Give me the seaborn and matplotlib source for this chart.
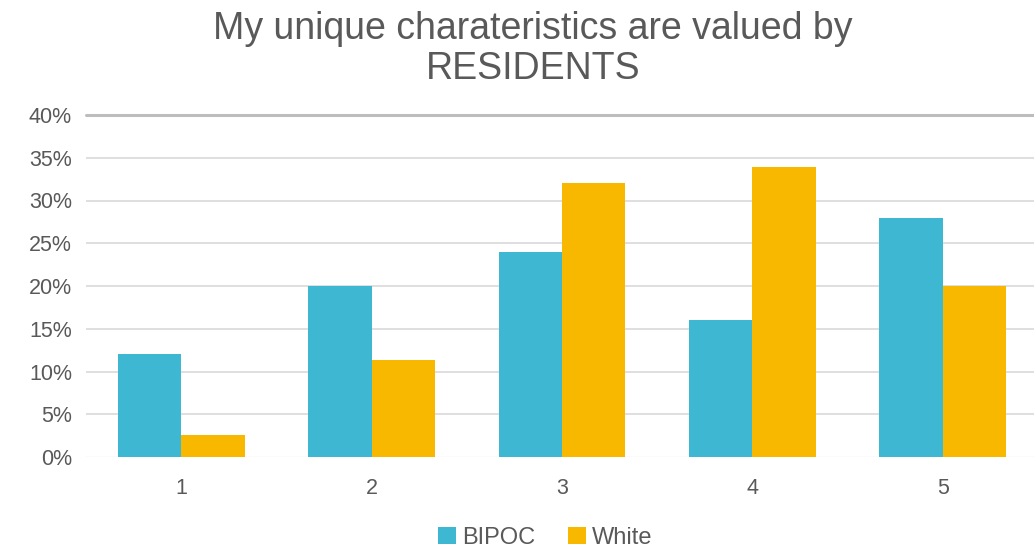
import matplotlib
matplotlib.use("Agg")
import matplotlib.pyplot as plt
import seaborn as sns
import pandas as pd
from matplotlib.patches import Patch

categories = ["1", "2", "3", "4", "5"]
bipoc = [12.0, 20.0, 24.0, 16.0, 28.0]
white = [2.6, 11.3, 32.0, 33.9, 20.0]
groups = ["BIPOC", "White"]
colors = ["#3DB7D2", "#F9B800"]
yticks = [0, 5, 10, 15, 20, 25, 30, 35, 40]

df = pd.DataFrame({
    "cat": categories * 2,
    "value": bipoc + white,
    "group": [groups[0]] * len(categories) + [groups[1]] * len(categories),
})

sns.set_theme(style="white")
plt.rcParams["font.family"] = ["Liberation Sans", "DejaVu Sans"]

fig = plt.figure(figsize=(10.34, 5.52), dpi=100)
W, H = 1034, 552
ax = fig.add_axes([86 / W, 1 - 457 / H, (1038 - 86) / W, (457 - 115) / H])

sns.barplot(data=df, x="cat", y="value", hue="group", order=categories,
            hue_order=groups, palette=colors, width=0.667, saturation=1,
            edgecolor="none", linewidth=0, ax=ax, legend=False)

ax.set_ylim(0, 40)
ax.set_xlim(-0.5, 4.5)
ax.set_yticks(yticks)
ax.set_yticklabels([f"{t}%" for t in yticks])
ax.set_xlabel("")
ax.set_ylabel("")
for s in ax.spines.values():
    s.set_visible(False)
ax.set_axisbelow(True)
for t in yticks:
    if t == 40:
        ax.axhline(t, color="#BDBDBD", lw=2.2, zorder=0, clip_on=False)
    elif t == 0:
        ax.axhline(t, color="#E6E6E6", lw=1.0, zorder=0)
    else:
        ax.axhline(t, color="#D9D9D9", lw=1.2, zorder=0)
ax.tick_params(axis="both", length=0, labelsize=15.5, labelcolor="#595959")
ax.tick_params(axis="y", pad=10)
ax.tick_params(axis="x", pad=15)

fig.text(533 / W, 1 - 49 / H, "My unique charateristics are valued by\nRESIDENTS",
         ha="center", va="center", fontsize=27, color="#595959", linespacing=1.12)

handles = [Patch(facecolor=c, edgecolor="none") for c in colors]
fig.legend(handles, groups, loc="center", bbox_to_anchor=(545 / W, 1 - 538 / H),
           ncol=2, frameon=False, fontsize=17, labelcolor="#595959",
           handlelength=0.75, handleheight=0.75, handletextpad=0.25, columnspacing=1.4)

fig.savefig("out.png", dpi=100, facecolor="white")
